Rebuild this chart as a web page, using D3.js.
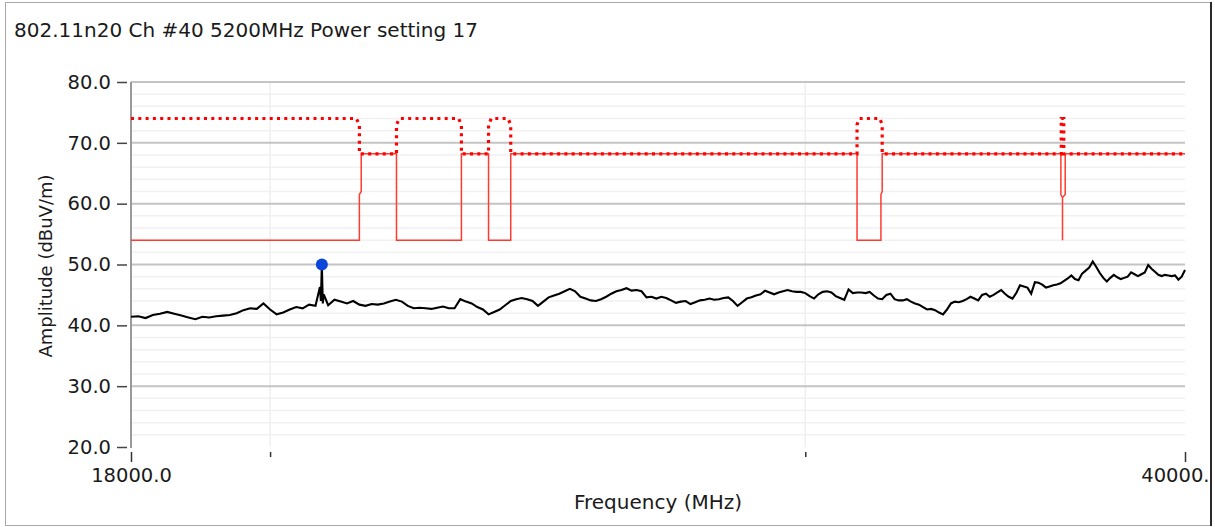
<!DOCTYPE html>
<html>
<head>
<meta charset="utf-8">
<script src="https://cdn.jsdelivr.net/npm/d3@7"></script>
<style>
  html, body { margin: 0; padding: 0; background: #fff; }
  svg { display: block; }
  text { font-family: "DejaVu Sans", Verdana, sans-serif; fill: #1a1a1a; }
</style>
</head>
<body>
<svg id="chart" width="1215" height="527"></svg>
<script>
// ---------------- DATA ----------------
const titleText = "802.11n20 Ch #40 5200MHz Power setting 17";
const xLabel = "Frequency (MHz)";
const yLabel = "Amplitude (dBuV/m)";

const freqDomain = [18000, 40000];
const ampDomain = [20, 80];
const yTickValues = [20, 30, 40, 50, 60, 70, 80];
const xTickValues = [18000, 20000, 30000, 40000];
const xLabeledTicks = [18000, 40000];
const xTickLabels = ["18000.0", "40000."];

// Measured trace, one reading every 100 MHz from 18000 MHz
const traceStartMHz = 18000;
const traceStepMHz = 100;
const traceDb = [
  41.4, 41.5, 41.2, 41.7, 41.9, 42.2, 41.9, 41.6, 41.3, 41.0, 41.4,
  41.3, 41.5, 41.6, 41.7, 42.0, 42.5, 42.8, 42.7, 43.6, 42.6,
  41.8, 42.1, 42.6, 43.0, 42.8, 43.4, 43.2, 50.0, 43.3, 44.2,
  43.9, 43.6, 44.0, 43.4, 43.2, 43.5, 43.4, 43.6, 43.9, 44.2,
  43.9, 43.2, 42.8, 42.9, 42.8, 42.7, 42.9, 43.1, 42.8, 42.8,
  44.3, 43.9, 43.6, 43.0, 42.6, 41.8, 42.2, 42.6, 43.3, 44.0,
  44.3, 44.5, 44.3, 44.0, 43.2, 43.9, 44.6, 44.9, 45.2, 45.6,
  46.0, 45.6, 44.7, 44.4, 44.1, 44.0, 44.3, 44.7, 45.2, 45.6,
  45.8, 46.1, 45.7, 45.8, 45.6, 44.6, 44.7, 44.4, 44.7, 44.5,
  44.1, 43.7, 43.9, 44.0, 43.5, 43.8, 44.1, 44.2, 44.4, 44.2,
  44.3, 44.5, 44.6, 44.0, 43.2, 43.8, 44.4, 44.6, 44.9, 45.1,
  45.7, 45.4, 45.1, 45.4, 45.6, 45.8, 45.6, 45.5, 45.5, 45.3,
  44.8, 44.4, 45.1, 45.5, 45.6, 45.4, 44.8, 44.5, 44.2, 45.9,
  45.3, 45.4, 45.4, 45.3, 45.5, 44.9, 44.4, 44.3, 45.0, 45.2,
  44.3, 44.1, 44.1, 44.3, 43.9, 43.6, 43.4, 43.0, 42.6, 42.7,
  42.5, 42.1, 41.8, 42.6, 43.6, 43.9, 43.8, 44.0, 44.3, 44.7,
  44.4, 44.1, 45.0, 45.2, 44.7, 45.0, 45.4, 45.8, 45.2, 44.7,
  44.4, 45.3, 46.6, 46.4, 46.2, 45.2, 47.1, 47.0, 46.7, 46.2,
  46.4, 46.6, 46.7, 46.9, 47.3, 47.7, 48.2, 47.6, 47.4, 48.5,
  49.0, 49.5, 50.5, 49.6, 48.6, 47.8, 47.2, 47.8, 48.3, 47.9,
  47.6, 47.8, 48.0, 48.7, 48.4, 48.1, 48.4, 48.7, 49.9, 49.3,
  48.8, 48.3, 48.1, 48.3, 48.2, 48.1, 48.2, 47.5, 48.0, 49.1
];
// finer readings around the emission spike
const spikeDetail = [[20770, 46.3], [20785, 44.0], [20815, 43.6], [20830, 45.1]];

// Peak marker
const markerPoint = [20800, 50.0];

// Average limit (solid) [MHz, dBuV/m]
const avgLimit = [
  [18000, 54], [21400, 54], [21400, 61.5], [21430, 62], [21430, 68.2],
  [22010, 68.2], [22010, 54], [23120, 54], [23120, 68.2],
  [23600, 68.2], [23600, 54], [24000, 54], [24000, 68.2],
  [31200, 68.2], [31200, 54], [31770, 54], [31770, 61.5], [31800, 62], [31800, 68.2],
  [36410, 68.2], [36410, 61.5], [36455, 61.0], [36455, 54], [36455, 61.0],
  [36530, 61.5], [36530, 68.2], [40000, 68.2]
];
// Peak limit (dotted) [MHz, dBuV/m]
const peakLimit = [
  [18000, 74], [21350, 74], [21400, 73], [21400, 68.2],
  [22010, 68.2], [22010, 73], [22060, 74],
  [23070, 74], [23120, 73], [23120, 68.2],
  [23600, 68.2], [23600, 73], [23650, 74],
  [23950, 74], [24000, 73], [24000, 68.2],
  [31200, 68.2], [31200, 73], [31260, 74],
  [31740, 74], [31800, 73], [31800, 68.2],
  [36420, 68.2], [36420, 74], [36490, 74], [36490, 68.2],
  [40000, 68.2]
];

// ---------------- DRAW ----------------
const svg = d3.select("#chart");
const plot = { left: 131, right: 1185, top: 82, bottom: 447 };

const x = d3.scaleLog().domain(freqDomain).range([plot.left, plot.right]);
const y = d3.scaleLinear().domain(ampDomain).range([plot.bottom, plot.top]);

svg.append("defs").append("clipPath").attr("id", "frameClip")
  .append("rect").attr("x", 5).attr("y", 3).attr("width", 1205).attr("height", 522);

const root = svg.append("g").attr("clip-path", "url(#frameClip)");

// frame
svg.append("rect").attr("x", 5.5).attr("y", 2.5).attr("width", 1205).attr("height", 523)
  .attr("fill", "none").attr("stroke", "#a8a8a8").attr("stroke-width", 1);
svg.append("line").attr("x1", 1211).attr("x2", 1211).attr("y1", 2).attr("y2", 526)
  .attr("stroke", "#2a2a2a").attr("stroke-width", 2);

// title
root.append("text").attr("x", 14).attr("y", 37)
  .style("font-size", "20px").text(titleText);

// minor horizontal grid
const minorY = d3.range(22, 80, 2).filter(v => v % 10 !== 0);
root.append("g").selectAll("line").data(minorY).join("line")
  .attr("x1", plot.left).attr("x2", plot.right)
  .attr("y1", d => y(d)).attr("y2", d => y(d))
  .attr("stroke", "#f1f1f1").attr("stroke-width", 1.5);

// vertical minor grid
root.append("g").selectAll("line").data(xTickValues.filter(v => !xLabeledTicks.includes(v))).join("line")
  .attr("x1", d => x(d)).attr("x2", d => x(d))
  .attr("y1", plot.top).attr("y2", plot.bottom)
  .attr("stroke", "#efefef").attr("stroke-width", 1.5);

// major horizontal grid
root.append("g").selectAll("line").data(yTickValues.filter(v => v > ampDomain[0])).join("line")
  .attr("x1", plot.left).attr("x2", plot.right)
  .attr("y1", d => y(d)).attr("y2", d => y(d))
  .attr("stroke", "#c4c4c4").attr("stroke-width", 2);

// y axis line
root.append("line").attr("x1", plot.left).attr("x2", plot.left)
  .attr("y1", plot.top).attr("y2", plot.bottom + 1)
  .attr("stroke", "#9a9a9a").attr("stroke-width", 2);

// y axis ticks
const yAxis = d3.axisLeft(y).tickValues(yTickValues).tickFormat(d3.format(".1f"))
  .tickSize(10).tickPadding(6);
const gy = root.append("g").attr("transform", `translate(${plot.left - 4},0)`).call(yAxis);
gy.select(".domain").remove();
gy.selectAll(".tick line").attr("stroke", "#444").attr("stroke-width", 1.5);
gy.selectAll(".tick text").style("font-size", "19.5px").style("font-family", "DejaVu Sans").attr("fill", "#1a1a1a");

// x axis ticks
const xAxis = d3.axisBottom(x).tickValues(xTickValues)
  .tickFormat(d => {
    const k = xLabeledTicks.indexOf(d);
    return k >= 0 ? xTickLabels[k] : "";
  })
  .tickSize(10).tickPadding(6);
const gx = root.append("g").attr("transform", `translate(0,${plot.bottom + 5})`).call(xAxis);
gx.select(".domain").remove();
gx.selectAll(".tick line").attr("stroke", "#333").attr("stroke-width", 1.5)
  .attr("y2", d => xLabeledTicks.includes(d) ? 10 : 5);
gx.selectAll(".tick text").style("font-size", "19.5px").style("font-family", "DejaVu Sans").attr("fill", "#1a1a1a");
// last label sits flush against the frame's right edge
gx.selectAll(".tick text").filter(d => d === freqDomain[1])
  .attr("text-anchor", "end").attr("x", 1209 - x(freqDomain[1]));

// axis titles
root.append("text").attr("transform", `translate(52,266) rotate(-90)`)
  .attr("text-anchor", "middle").style("font-size", "18px").text(yLabel);
root.append("text").attr("x", 658).attr("y", 509)
  .attr("text-anchor", "middle").style("font-size", "20px").text(xLabel);

// limit lines
const line = d3.line().x(d => x(d[0])).y(d => y(d[1]));
root.append("path").datum(avgLimit).attr("d", line)
  .attr("fill", "none").attr("stroke", "#ff3b30").attr("stroke-width", 1.5);
root.append("path").datum(peakLimit).attr("d", line)
  .attr("fill", "none").attr("stroke", "#ff0000").attr("stroke-width", 3.2)
  .attr("stroke-dasharray", "3,4.3");

// trace
const tracePts = traceDb.map((v, i) => [traceStartMHz + i * traceStepMHz, v])
  .concat(spikeDetail).sort((a, b) => a[0] - b[0]);
root.append("path").datum(tracePts).attr("d", line)
  .attr("fill", "none").attr("stroke", "#000").attr("stroke-width", 2.1)
  .attr("stroke-linejoin", "miter");

// marker
root.append("circle").attr("cx", x(markerPoint[0])).attr("cy", y(markerPoint[1]))
  .attr("r", 6).attr("fill", "#0b46d9");
</script>
</body>
</html>
